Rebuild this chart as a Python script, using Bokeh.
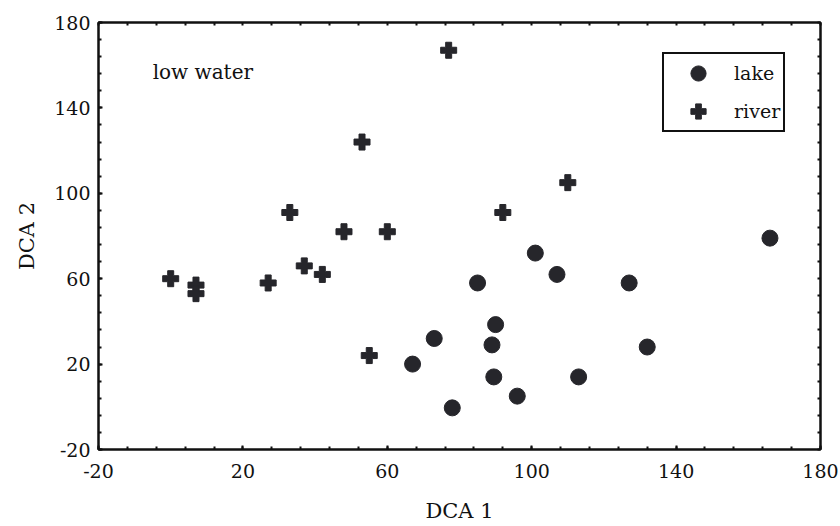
from bokeh.plotting import figure
from bokeh.models import (ColumnDataSource, LinearAxis, FixedTicker, Label,
                          Legend, LegendItem, Range1d)
from bokeh.embed import file_html
from bokeh.resources import INLINE

# ---- data ----
lake_x = [67, 73, 78, 85, 89, 89.5, 90, 96, 101, 107, 113, 127, 132, 166]
lake_y = [20, 32, -0.5, 58, 29, 14, 38.5, 5, 72, 62, 14, 58, 28, 79]

river_x = [0, 7, 7, 27, 33, 37, 42, 48, 53, 55, 60, 77, 92, 110]
river_y = [60, 57, 53, 58, 91, 66, 62, 82, 124, 24, 82, 167, 91, 105]

x_ticks = [-20, 20, 60, 100, 140, 180]
y_ticks = [-20, 20, 60, 100, 140, 180]
minor_vals = list(range(-20, 181, 8))

FONT = "DejaVu Serif"
INK = "#111111"
MARK = "#26262b"

p = figure(width=840, height=526, output_backend="svg", toolbar_location=None,
           x_range=Range1d(-20, 180), y_range=Range1d(-20, 180),
           min_border_left=98, min_border_right=20, min_border_top=22,
           min_border_bottom=77, x_axis_location=None, y_axis_location=None)
p.grid.visible = False
p.outline_line_color = INK
p.outline_line_width = 2
p.background_fill_color = "white"
p.border_fill_color = "white"

def style_axis(ax):
    ax.axis_line_color = INK
    ax.axis_line_width = 2
    ax.major_tick_in = 4
    ax.major_tick_out = 0
    ax.minor_tick_in = 3
    ax.minor_tick_out = 0
    ax.major_tick_line_color = INK
    ax.minor_tick_line_color = INK
    ax.major_tick_line_width = 2
    ax.minor_tick_line_width = 2
    ax.major_label_text_font = FONT
    ax.major_label_text_font_size = "19px"
    ax.major_label_text_color = INK
    ax.axis_label_text_font = FONT
    ax.axis_label_text_font_size = "21px"
    ax.axis_label_text_font_style = "normal"
    ax.axis_label_text_color = INK
    ax.major_label_overrides = {-20: "-20"}

xb = LinearAxis(ticker=FixedTicker(ticks=x_ticks, minor_ticks=minor_vals),
                axis_label="DCA 1")
style_axis(xb)
xb.major_label_standoff = 14
xb.axis_label_standoff = 18
p.add_layout(xb, "below")

yl = LinearAxis(ticker=FixedTicker(ticks=y_ticks, minor_ticks=minor_vals),
                axis_label="DCA 2")
style_axis(yl)
yl.major_label_standoff = 8
yl.axis_label_standoff = 12
p.add_layout(yl, "left")

xt = LinearAxis(ticker=FixedTicker(ticks=[], minor_ticks=minor_vals))
style_axis(xt)
p.add_layout(xt, "above")
yr = LinearAxis(ticker=FixedTicker(ticks=[], minor_ticks=minor_vals))
style_axis(yr)
p.add_layout(yr, "right")

lake_src = ColumnDataSource(dict(x=lake_x, y=lake_y))
river_src = ColumnDataSource(dict(x=river_x, y=river_y))

r_lake = p.scatter("x", "y", source=lake_src, marker="circle", size=16,
                   fill_color=MARK, line_color=MARK, line_width=1)
r_river = p.scatter("x", "y", source=river_src, marker="plus", size=16,
                    fill_color=MARK, line_color=MARK, line_width=1)

p.add_layout(Label(x=-5, y=156.6, text="low water", text_font=FONT,
                   text_font_size="20px", text_color=INK,
                   text_baseline="middle", text_align="left"))

legend = Legend(items=[LegendItem(label="lake", renderers=[r_lake]),
                       LegendItem(label="river", renderers=[r_river])],
                location=(564, 317), padding=0, margin=0, spacing=-4,
                glyph_width=68, glyph_height=38, label_height=38,
                label_standoff=2, label_width=49,
                label_text_font=FONT, label_text_font_size="19px",
                label_text_color=INK,
                border_line_color=INK, border_line_width=2,
                border_line_alpha=1.0,
                background_fill_color="white", background_fill_alpha=1)
p.add_layout(legend, "center")

open("out.html", "w").write(file_html(p, INLINE))
